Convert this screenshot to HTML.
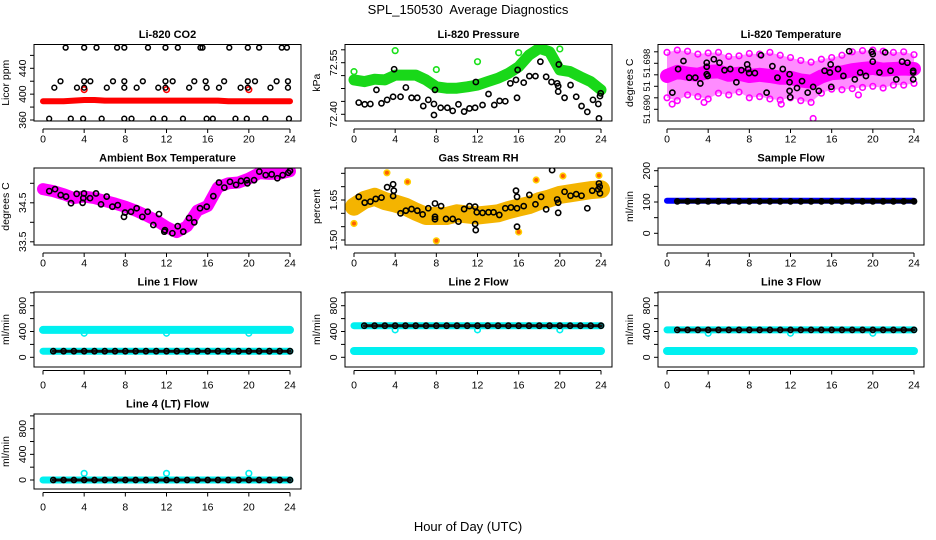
<!DOCTYPE html>
<html><head><meta charset="utf-8">
<style>
html,body{margin:0;padding:0;background:#fff;}
svg{display:block;font-family:"Liberation Sans",Arial,sans-serif;}
</style></head>
<body>
<svg id="chart" width="936" height="540" viewBox="0 0 936 540" xmlns="http://www.w3.org/2000/svg">
<rect x="0" y="0" width="936" height="540" fill="#fff"/>
<text x="468" y="14" text-anchor="middle" font-size="13">SPL_150530&#160; Average Diagnostics</text>
<text x="468" y="531" text-anchor="middle" font-size="13">Hour of Day (UTC)</text>
</svg>
<script>
// ---------- data ----------
const hours=[0,1,2,3,4,5,6,7,8,9,10,11,12,13,14,15,16,17,18,19,20,21,22,23,24];
const xTicks=[0,4,8,12,16,20,24];

// Li-820 CO2
const co2RedV=[389,389,389,390,391,391,390,390,390,390,390,390,390,390,390,390,390,390,389,389,389,389,389,389,389];
const co2RedOutT=[4,12,20];
const co2RedOutV=[407,407,407];
const co2BlackT=[2.2,4.0,5.2,7.2,7.9,10.2,11.9,13.1,15.3,15.5,18.1,19.9,21.0,23.2,23.7,
 1.7,4.0,4.6,6.8,7.9,9.7,11.9,12.6,14.7,15.8,17.6,19.9,20.6,22.7,23.8,
 1.1,3.3,4.0,6.2,7.9,9.1,11.2,11.9,14.2,15.9,17.1,19.2,19.9,22.1,23.8,
 0.6,2.7,3.9,5.7,7.9,8.6,10.7,11.8,13.6,15.9,16.5,18.7,19.8,21.6,23.9];
const co2BlackV=[472,472,472,472,472,472,472,472,472,472,472,472,472,472,472,
 420,420,420,420,420,420,420,420,420,420,420,420,420,420,420,
 410,410,410,410,410,410,410,410,410,410,410,410,410,410,410,
 362,362,362,362,362,362,362,362,362,362,362,362,362,362,362];

// Li-820 Pressure
const pressGreenV=[72.500,72.495,72.502,72.500,72.514,72.514,72.514,72.500,72.480,72.476,72.476,72.480,72.485,72.495,72.505,72.519,72.538,72.572,72.592,72.582,72.529,72.524,72.509,72.495,72.471];
const pressGreenOutT=[0,4,8,12,16,20];
const pressGreenOutV=[72.524,72.585,72.530,72.553,72.579,72.590];
const pressBlackT=[0.46,1.04,1.59,2.18,2.67,3.22,3.80,3.90,4.52,5.04,5.59,6.15,6.73,7.22,7.77,7.77,7.87,8.42,9.07,9.59,10.15,10.70,11.22,11.77,11.84,12.49,13.07,13.63,14.15,14.70,15.19,15.74,15.84,15.90,16.49,17.04,17.63,18.11,18.67,19.19,19.74,19.84,19.84,19.90,20.46,21.04,21.59,22.11,22.67,23.22,23.74,23.80,23.90,23.97];
const pressBlackV=[72.434,72.429,72.430,72.471,72.432,72.442,72.451,72.531,72.451,72.478,72.448,72.448,72.424,72.442,72.398,72.430,72.471,72.419,72.419,72.410,72.429,72.408,72.417,72.419,72.494,72.427,72.459,72.427,72.439,72.438,72.490,72.500,72.448,72.529,72.492,72.511,72.511,72.553,72.509,72.494,72.490,72.482,72.466,72.545,72.448,72.485,72.451,72.424,72.407,72.442,72.430,72.388,72.453,72.461];

// Li-820 Temperature
const tempHi=[51.6999,51.7003,51.7001,51.6996,51.6998,51.6999,51.6992,51.6993,51.6997,51.6996,51.6999,51.6994,51.6990,51.6985,51.6982,51.6987,51.6990,51.6994,51.7000,51.7002,51.7003,51.7001,51.6999,51.7000,51.6995];
const tempMid=[51.6958,51.6965,51.6962,51.6960,51.6965,51.6966,51.6960,51.6962,51.6958,51.6960,51.6958,51.6955,51.6955,51.6950,51.6948,51.6957,51.6963,51.6964,51.6968,51.6970,51.6972,51.6969,51.6970,51.6971,51.6970];
const tempLo=[51.6920,51.6915,51.6925,51.6922,51.6918,51.6928,51.6925,51.6930,51.6920,51.6922,51.6918,51.6916,51.6920,51.6915,51.6912,51.6928,51.6935,51.6934,51.6936,51.6938,51.6940,51.6937,51.6942,51.6942,51.6945];
const tempOutT=[0.5,3.6,14.2,11.1,18.6];
const tempOutV=[51.6909,51.6912,51.6884,51.6909,51.6925];
const tempBlackT=[0.52,1.08,1.60,2.16,2.75,3.24,3.86,3.86,3.86,3.96,4.55,5.10,5.59,6.15,6.74,7.23,7.79,7.88,7.98,8.54,9.13,9.68,10.24,10.73,11.25,11.91,11.91,11.91,11.97,12.63,13.12,13.67,14.20,14.75,15.31,15.83,15.90,15.96,16.62,17.14,17.70,18.25,18.77,19.33,19.89,19.99,19.99,20.64,21.20,21.72,22.28,22.84,23.36,23.92,23.92,23.92];
const tempBlackV=[51.6929,51.6970,51.6984,51.6955,51.6955,51.6945,51.6981,51.6974,51.6961,51.6958,51.6987,51.6981,51.6968,51.6970,51.6947,51.6968,51.6978,51.6970,51.6963,51.6963,51.6994,51.6929,51.6975,51.6955,51.6970,51.6961,51.6947,51.6932,51.6921,51.6937,51.6949,51.6929,51.6939,51.6932,51.6967,51.6964,51.6978,51.6939,51.6970,51.6958,51.7001,51.6952,51.6964,51.6958,51.7000,51.6996,51.6983,51.6964,51.6999,51.6967,51.6952,51.6983,51.6981,51.6967,51.6964,51.6952];

// Ambient Box Temperature
const ambV=[34.85,34.80,34.72,34.62,34.66,34.62,34.55,34.48,34.40,34.30,34.18,34.05,33.88,33.75,33.90,34.30,34.42,34.90,35.00,35.02,35.12,35.26,35.24,35.25,35.31];
const ambBlackT=[0.61,1.17,1.72,2.24,2.72,3.27,3.85,3.92,3.98,4.57,5.15,5.64,6.19,6.74,7.26,7.87,7.97,8.55,9.10,9.65,10.17,10.72,11.27,11.79,11.85,12.57,13.09,13.63,14.19,14.70,15.26,15.91,16.55,17.10,17.62,18.17,18.76,19.24,19.80,19.86,20.51,21.02,21.64,22.22,22.77,23.29,23.84,24.00];
const ambBlackV=[34.80,34.85,34.70,34.66,34.49,34.73,34.50,34.62,34.74,34.62,34.74,34.46,34.66,34.40,34.44,34.14,34.25,34.27,34.36,34.14,34.27,33.93,34.21,33.76,33.80,33.72,33.90,33.76,34.11,34.00,34.36,34.40,34.67,35.02,34.89,35.04,34.96,35.06,35.08,35.00,35.08,35.30,35.21,35.23,35.13,35.21,35.27,35.32];

// Gas Stream RH
const rhMid=[1.625,1.650,1.662,1.646,1.637,1.625,1.606,1.590,1.590,1.590,1.600,1.596,1.592,1.596,1.600,1.612,1.622,1.631,1.646,1.656,1.669,1.675,1.681,1.687,1.690];
const rhOutT=[0.0,3.2,5.2,8.0,16.0,17.7,20.3,23.8];
const rhOutV=[1.562,1.752,1.718,1.497,1.530,1.725,1.740,1.742];
const rhBlackT=[0.46,1.04,1.59,2.11,2.67,3.22,3.80,3.80,3.87,4.52,5.04,5.59,6.15,6.67,7.22,7.87,7.87,7.87,8.46,8.94,9.59,10.15,10.70,11.22,11.77,11.77,11.83,11.93,12.49,13.07,13.56,14.12,14.70,15.25,15.74,15.84,15.84,15.84,16.49,17.04,17.63,18.18,18.67,19.25,19.74,19.84,19.84,20.46,21.04,21.59,22.11,22.67,23.15,23.74,23.80,23.87,23.90];
const rhBlackV=[1.662,1.640,1.644,1.654,1.659,1.698,1.709,1.665,1.685,1.600,1.610,1.616,1.610,1.596,1.619,1.637,1.587,1.578,1.627,1.579,1.579,1.569,1.616,1.627,1.625,1.560,1.537,1.604,1.602,1.604,1.604,1.594,1.619,1.622,1.685,1.662,1.619,1.550,1.627,1.669,1.634,1.662,1.615,1.762,1.652,1.640,1.602,1.681,1.666,1.672,1.666,1.619,1.685,1.690,1.712,1.700,1.675];

// Sample Flow
const sampleBlue=[104,104,104,104,104,104,104,104,104,104,104,104,104,104,104,104,104,104,104,104,104,104,104,104,104];
const sampleBlack=[null,102,102,102,102,102,102,102,102,102,102,102,102,102,102,102,102,102,102,102,102,102,102,102,102];

// Line flows
const line1CyanHi=[425,425,425,425,425,425,425,425,425,425,425,425,425,425,425,425,425,425,425,425,425,425,425,425,425];
const line1CyanLo=[95,95,95,95,95,95,95,95,95,95,95,95,95,95,95,95,95,95,95,95,95,95,95,95,95];
const line1Black=[null,95,95,95,95,95,95,95,95,95,95,95,95,95,95,95,95,95,95,95,95,95,95,95,95];
const line1DipT=[4,12,20];
const line1DipV=[373,373,373];

const line2CyanHi=[490,490,490,490,490,490,490,490,490,490,490,490,490,490,490,490,490,490,490,490,490,490,490,490,490];
const line2CyanLo=[98,98,98,98,98,98,98,98,98,98,98,98,98,98,98,98,98,98,98,98,98,98,98,98,98];
const line2Black=[null,490,490,490,490,490,490,490,490,490,490,490,490,490,490,490,490,490,490,490,490,490,490,490,490];
const line2DipT=[4,12,20];
const line2DipV=[425,425,425];

const line3CyanHi=[425,425,425,425,425,425,425,425,425,425,425,425,425,425,425,425,425,425,425,425,425,425,425,425,425];
const line3CyanLo=[98,98,98,98,98,98,98,98,98,98,98,98,98,98,98,98,98,98,98,98,98,98,98,98,98];
const line3Black=[null,425,425,425,425,425,425,425,425,425,425,425,425,425,425,425,425,425,425,425,425,425,425,425,425];
const line3DipT=[4,12,20];
const line3DipV=[373,373,373];

const line4Cyan=[0,0,0,0,0,0,0,0,0,0,0,0,0,0,0,0,0,0,0,0,0,0,0,0,0];
const line4Black=[null,0,0,0,0,0,0,0,0,0,0,0,0,0,0,0,0,0,0,0,0,0,0,0,0];
const line4OutT=[4,12,20];
const line4OutV=[104,104,104];

// ---------- rendering ----------
const NS='http://www.w3.org/2000/svg';
const svg=document.getElementById('chart');
function mk(tag,attrs,parent){const e=document.createElementNS(NS,tag);for(const k in attrs)e.setAttribute(k,attrs[k]);(parent||svg).appendChild(e);return e;}

const colL=[34,345,658], colR=[301,612,924];
const rowTB=[[44.5,121],[168,245],[292,367],[414,489]];

function makePanel(o){
  const L=colL[o.col],R=colR[o.col],T=rowTB[o.row][0],B=rowTB[o.row][1];
  const x0=L+9,x1=L+256;
  const g=mk('g',{});
  
  
  const xs=t=>x0+(t/24)*(x1-x0);
  const ys=v=>o.p0+(v-o.v0)*(o.p1-o.p0)/(o.v1-o.v0);
  const plot=mk('g',{},g);
  
  
  const clip='clip-'+o.name;
  const cp=mk('clipPath',{id:clip},g);
  mk('rect',{x:L,y:T,width:R-L,height:B-T},cp);
  plot.setAttribute('clip-path','url(#'+clip+')');
  o.draw(plot,xs,ys);
  const frame=mk('rect',{x:L,y:T,width:R-L,height:B-T,fill:'none',stroke:'#000','stroke-width':1},g);
  
  
  const title=mk('text',{x:(L+R)/2,y:T-6.5,'text-anchor':'middle','font-size':11,'font-weight':'bold'},g);
  title.textContent=o.title;
  
  
  const ax=o.row<2?B+8:B+3.5;
  const xa=mk('g',{},g);
  
  
  mk('line',{x1:xs(xTicks[0]),x2:xs(xTicks[xTicks.length-1]),y1:ax,y2:ax,stroke:'#000'},xa);
  xTicks.forEach(t=>{
    mk('line',{x1:xs(t),x2:xs(t),y1:ax,y2:ax+4,stroke:'#000'},xa);
    const tx=mk('text',{x:xs(t),y:B+21.5,'text-anchor':'middle','font-size':10.5},xa);
    tx.textContent=String(t);
    
    
  });
  const ya=mk('g',{},g);
  
  
  const tk=o.ticks;
  mk('line',{x1:L,x2:L,y1:ys(tk[0]),y2:ys(tk[tk.length-1]),stroke:'#000'},ya);
  tk.forEach((v,i)=>{
    mk('line',{x1:L-4,x2:L,y1:ys(v),y2:ys(v),stroke:'#000'},ya);
    if(o.labels[i]){
      const yy=ys(v);
      const tx=mk('text',{x:L-8,y:yy,'text-anchor':'middle','font-size':o.tickFont||10.5,transform:'rotate(-90 '+(L-8)+' '+yy+')'},ya);
      tx.textContent=o.labels[i];
      
      
    }
  });
  const ytx=L-25, yty=(T+B)/2;
  const yt=mk('text',{x:ytx,y:yty,'text-anchor':'middle','font-size':10.5,transform:'rotate(-90 '+ytx+' '+yty+')'},ya);
  yt.textContent=o.ytitle;
  
  
}

function pts(p,ts,vs,xs,ys,color,r,sw,name,fill){
  ts.forEach((t,i)=>{
    if(vs[i]===null) return;
    const c=mk('circle',{cx:xs(t),cy:ys(vs[i]),r:r,fill:fill||'none',stroke:color,'stroke-width':sw},p);
    
    
  });
}
function band(p,ts,vs,xs,ys,color,w,name){
  let d='';
  ts.forEach((t,i)=>{if(vs[i]===null)return; d+=(d?'L':'M')+xs(t).toFixed(1)+' '+ys(vs[i]).toFixed(1);});
  const e=mk('path',{d:d,fill:'none',stroke:color,'stroke-width':w,'stroke-linecap':'round','stroke-linejoin':'round'},p);
  
  
}
function area(p,ts,hi,lo,xs,ys,color,name,op){
  let d='';
  ts.forEach((t,i)=>{d+=(d?'L':'M')+xs(t).toFixed(1)+' '+ys(hi[i]).toFixed(1);});
  for(let i=ts.length-1;i>=0;i--) d+='L'+xs(ts[i]).toFixed(1)+' '+ys(lo[i]).toFixed(1);
  const e=mk('path',{d:d+'Z',fill:color,'fill-opacity':op||1,stroke:'none'},p);
  
  
}

const CY='#00f0f0';

makePanel({name:'co2',col:0,row:0,title:'Li-820 CO2',ytitle:'Licor ppm',v0:360,p0:120,v1:440,p1:68.3,
 ticks:[360,380,400,420,440,460],labels:['360','','400','','440',''],
 draw:(p,xs,ys)=>{
  band(p,hours,co2RedV,xs,ys,'#ff0000',6,'co2-red-series');
  pts(p,co2RedOutT,co2RedOutV,xs,ys,'#ff0000',2.8,1.6,'co2-red-point');
  pts(p,co2BlackT,co2BlackV,xs,ys,'#000',2.4,1.5,'co2-black-point');
 }});

makePanel({name:'pressure',col:1,row:0,title:'Li-820 Pressure',ytitle:'kPa',v0:72.40,p0:114.3,v1:72.55,p1:62.7,
 ticks:[72.40,72.4375,72.475,72.5125,72.55,72.5875],labels:['72.40','','','','72.55',''],
 draw:(p,xs,ys)=>{
  band(p,hours,pressGreenV,xs,ys,'#19d819',11,'pressure-green-series');
  pts(p,pressGreenOutT,pressGreenOutV,xs,ys,'#19e019',2.8,1.6,'pressure-green-point');
  pts(p,pressBlackT,pressBlackV,xs,ys,'#000',2.6,1.6,'pressure-black-point');
 }});

makePanel({name:'li820-temperature',col:2,row:0,title:'Li-820 Temperature',ytitle:'degrees C',v0:51.690,p0:109.3,v1:51.698,p1:63.3,tickFont:9.5,
 ticks:[51.690,51.692,51.694,51.696,51.698,51.700],labels:['51.690','','51','','51.698',''],
 draw:(p,xs,ys)=>{
  area(p,hours,tempHi,tempLo,xs,ys,'#ff00ff','temperature-magenta-band',0.45);
  band(p,hours,tempMid,xs,ys,'#ff00ff',14,'temperature-magenta-core');
  pts(p,hours,tempHi,xs,ys,'#ff00ff',2.8,1.6,'temperature-magenta-point');
  pts(p,hours,tempLo,xs,ys,'#ff00ff',2.8,1.6,'temperature-magenta-point');
  pts(p,tempOutT,tempOutV,xs,ys,'#ff00ff',2.8,1.6,'temperature-magenta-point');
  pts(p,tempBlackT,tempBlackV,xs,ys,'#000',2.6,1.6,'temperature-black-point');
 }});

makePanel({name:'ambient-temperature',col:0,row:1,title:'Ambient Box Temperature',ytitle:'degrees C',v0:34.0,p0:222.3,v1:35.0,p1:183.3,
 ticks:[33.5,34.0,34.5,35.0],labels:['33.5','','34.5',''],
 draw:(p,xs,ys)=>{
  band(p,hours,ambV,xs,ys,'#ff00ff',12,'ambient-magenta-series');
  pts(p,ambBlackT,ambBlackV,xs,ys,'#000',2.6,1.6,'ambient-black-point');
 }});

makePanel({name:'gas-rh',col:1,row:1,title:'Gas Stream RH',ytitle:'percent',v0:1.65,p0:200,v1:1.50,p1:240,
 ticks:[1.50,1.55,1.60,1.65,1.70,1.75],labels:['1.50','','','1.65','',''],
 draw:(p,xs,ys)=>{
  band(p,hours,rhMid,xs,ys,'#f4b400',18,'rh-yellow-series');
  pts(p,rhOutT,rhOutV,xs,ys,'#ffd000',2.8,1.6,'rh-yellow-point','#ff6000');
  pts(p,rhBlackT,rhBlackV,xs,ys,'#000',2.6,1.6,'rh-black-point');
 }});

makePanel({name:'sample-flow',col:2,row:1,title:'Sample Flow',ytitle:'ml/min',v0:0,p0:233.3,v1:200,p1:170.7,
 ticks:[0,50,100,150,200],labels:['0','','100','','200'],
 draw:(p,xs,ys)=>{
  band(p,hours,sampleBlue,xs,ys,'#0000ff',6,'sample-blue-series');
  band(p,hours,sampleBlack,xs,ys,'#000',4,'sample-black-series');
  pts(p,hours,sampleBlack,xs,ys,'#000',2.6,1.6,'sample-black-point');
 }});

const flowTicks=[0,200,400,600,800,1000], flowLabels=['0','','400','','800',''];
makePanel({name:'line1-flow',col:0,row:2,title:'Line 1 Flow',ytitle:'ml/min',v0:0,p0:357.3,v1:800,p1:305.7,
 ticks:flowTicks,labels:flowLabels,
 draw:(p,xs,ys)=>{
  band(p,hours,line1CyanHi,xs,ys,CY,8,'line1-cyan-series');
  band(p,hours,line1CyanLo,xs,ys,CY,7,'line1-cyan-low-series');
  pts(p,line1DipT,line1DipV,xs,ys,CY,2.8,1.6,'line1-cyan-point');
  band(p,hours,line1Black,xs,ys,'#111',3,'line1-black-series');
  pts(p,hours,line1Black,xs,ys,'#000',2.6,1.6,'line1-black-point');
 }});

makePanel({name:'line2-flow',col:1,row:2,title:'Line 2 Flow',ytitle:'ml/min',v0:0,p0:357.3,v1:800,p1:305.7,
 ticks:flowTicks,labels:flowLabels,
 draw:(p,xs,ys)=>{
  band(p,hours,line2CyanHi,xs,ys,CY,7,'line2-cyan-series');
  band(p,hours,line2CyanLo,xs,ys,CY,8,'line2-cyan-low-series');
  pts(p,line2DipT,line2DipV,xs,ys,CY,2.8,1.6,'line2-cyan-point');
  band(p,hours,line2Black,xs,ys,'#111',3,'line2-black-series');
  pts(p,hours,line2Black,xs,ys,'#000',2.6,1.6,'line2-black-point');
 }});

makePanel({name:'line3-flow',col:2,row:2,title:'Line 3 Flow',ytitle:'ml/min',v0:0,p0:357.3,v1:800,p1:305.7,
 ticks:flowTicks,labels:flowLabels,
 draw:(p,xs,ys)=>{
  band(p,hours,line3CyanHi,xs,ys,CY,7,'line3-cyan-series');
  band(p,hours,line3CyanLo,xs,ys,CY,8,'line3-cyan-low-series');
  pts(p,line3DipT,line3DipV,xs,ys,CY,2.8,1.6,'line3-cyan-point');
  band(p,hours,line3Black,xs,ys,'#111',3,'line3-black-series');
  pts(p,hours,line3Black,xs,ys,'#000',2.6,1.6,'line3-black-point');
 }});

makePanel({name:'line4-flow',col:0,row:3,title:'Line 4 (LT) Flow',ytitle:'ml/min',v0:0,p0:480,v1:800,p1:428.7,
 ticks:flowTicks,labels:flowLabels,
 draw:(p,xs,ys)=>{
  band(p,hours,line4Cyan,xs,ys,CY,7,'line4-cyan-series');
  pts(p,line4OutT,line4OutV,xs,ys,CY,2.8,1.6,'line4-cyan-point');
  band(p,hours,line4Black,xs,ys,'#111',3,'line4-black-series');
  pts(p,hours,line4Black,xs,ys,'#000',2.6,1.6,'line4-black-point');
 }});
</script>
</body></html>
